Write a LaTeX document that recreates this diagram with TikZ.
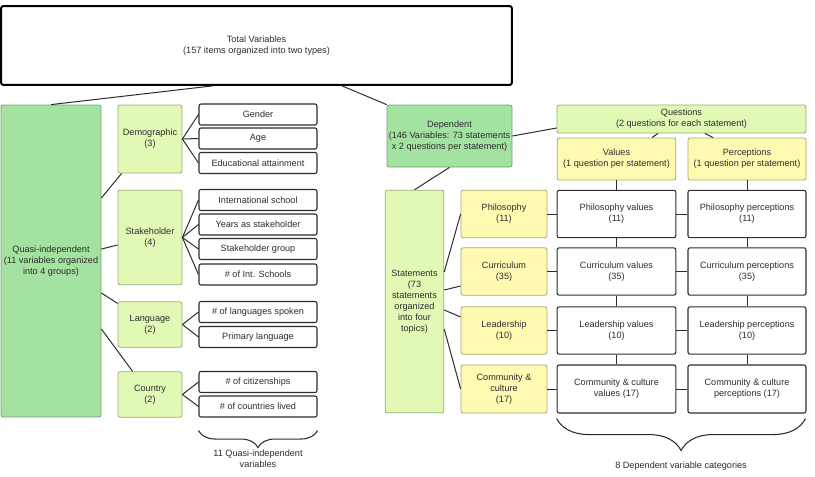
\documentclass[tikz,border=0pt]{standalone}
\usepackage{fontspec}
\setmainfont{Liberation Sans}
\usetikzlibrary{calc,decorations.pathreplacing}

\definecolor{darkgreen}{RGB}{163,226,160}
\definecolor{lightgreen}{RGB}{226,249,182}
\definecolor{lightyellow}{RGB}{255,250,178}
\definecolor{inkgray}{RGB}{45,45,45}

\newcommand{\lblfont}{\fontsize{6.85}{8.3}\selectfont}

\begin{document}
\begin{tikzpicture}[x=0.75pt,y=0.75pt,yscale=-1,xscale=1,
  box/.style={draw, rounded corners=1.5pt, align=center, inner sep=1pt, font=\lblfont, text=inkgray},
  totalbox/.style={box, draw=black, line width=1.5pt, fill=white},
  mainbox/.style={box, draw={rgb,255:red,120;green,160;blue,118}, line width=0.6pt, fill=darkgreen},
  groupbox/.style={box, draw={rgb,255:red,150;green,175;blue,120}, line width=0.6pt, fill=lightgreen},
  topicbox/.style={box, draw={rgb,255:red,175;green,165;blue,110}, line width=0.6pt, fill=lightyellow},
  itembox/.style={box, draw=inkgray, line width=0.8pt, fill=white},
  var/.style={itembox, minimum width=88.5pt, minimum height=15.75pt},
  cat/.style={itembox, minimum width=89pt, minimum height=35.5pt},
  link/.style={draw=inkgray, line width=0.75pt},
  bracket/.style={draw=inkgray, line width=0.8pt, decorate, decoration={brace, mirror, amplitude=#1}}
]
\useasboundingbox (0,0) rectangle (815,476);

% top
\node [totalbox, minimum width=383pt, minimum height=59pt] (total) at (256.5,45.5) {Total Variables\\(157 items organized into two types)};

% quasi-independent side
\node [mainbox, minimum width=75pt, minimum height=234pt] (quasi) at (51,261) {Quasi-independent\\(11 variables organized\\into 4 groups)};

\node [groupbox, minimum width=48pt, minimum height=51pt] (demo) at (150,139) {Demographic\\(3)};
\node [groupbox, minimum width=48pt, minimum height=71pt] (stake) at (150,237.5) {Stakeholder\\(4)};
\node [groupbox, minimum width=48pt, minimum height=34pt] (lang) at (150,324.5) {Language\\(2)};
\node [groupbox, minimum width=48pt, minimum height=34pt] (ctry) at (150,394.5) {Country\\(2)};

\node [var] (gender) at (258,114.5) {Gender};
\node [var] (age) at (258,138.5) {Age};
\node [var] (edu) at (258,163) {Educational attainment};
\node [var] (intl) at (258,200) {International school};
\node [var] (years) at (258,224.5) {Years as stakeholder};
\node [var] (sgroup) at (258,249) {Stakeholder group};
\node [var] (nschools) at (258,274.5) {\# of Int. Schools};
\node [var] (nlang) at (258,312) {\# of languages spoken};
\node [var] (primary) at (258,337) {Primary language};
\node [var] (ncitizen) at (258,382) {\# of citizenships};
\node [var] (ncountry) at (258,406.5) {\# of countries lived};

\draw [link] ($(total.south)+(-43.5,0)$) -- (quasi.north);
\draw [link] ($(quasi.east)+(0,-63)$) -- ($(demo.south west)+(4,0)$);
\draw [link] ($(quasi.east)+(0,-12)$) -- ($(stake.west)+(0,7.5)$);
\draw [link] ($(quasi.east)+(0,32)$) -- ($(lang.north west)+(0,2)$);
\draw [link] ($(quasi.east)+(0,68)$) -- ($(ctry.north west)+(15,0)$);

\foreach \v in {gender,age,edu} \draw [link] (demo.east) -- (\v.west);
\foreach \v in {intl,years,sgroup,nschools} \draw [link] (stake.east) -- (\v.west);
\foreach \v in {nlang,primary} \draw [link] (lang.east) -- (\v.west);
\foreach \v in {ncitizen,ncountry} \draw [link] (ctry.east) -- (\v.west);

\coordinate (qbl) at ($(ncountry.south west)+(0,13)$);
\coordinate (qbr) at ($(ncountry.south east)+(0,13)$);
\draw [bracket=12.75pt] (qbl) -- (qbr);
\node [font=\lblfont, text=inkgray, align=center] (qnote) at (258,459) {11 Quasi-independent\\variables};

% dependent side
\node [mainbox, minimum width=93.75pt, minimum height=46.5pt] (dep) at (449.5,136) {Dependent\\(146 Variables: 73 statements\\x 2 questions per statement)};
\node [groupbox, minimum width=186.75pt, minimum height=21pt] (quest) at (681.5,119) {Questions\\(2 questions for each statement)};
\node [topicbox, minimum width=89pt, minimum height=31.5pt] (values) at (616.5,159) {Values\\(1 question per statement)};
\node [topicbox, minimum width=88.5pt, minimum height=31.5pt] (percs) at (747,159) {Perceptions\\(1 question per statement)};

\node [groupbox, minimum width=44pt, minimum height=167pt] (stmts) at (414.5,301.5) {Statements\\(73\\statements\\organized\\into four\\topics)};

\node [topicbox, minimum width=64.5pt, minimum height=35.5pt] (philo) at (504,214) {Philosophy\\(11)};
\node [topicbox, minimum width=64.5pt, minimum height=35.5pt] (curr) at (504,271.5) {Curriculum\\(35)};
\node [topicbox, minimum width=64.5pt, minimum height=35.5pt] (lead) at (504,330.5) {Leadership\\(10)};
\node [topicbox, minimum width=64.5pt, minimum height=36pt] (comm) at (504,389) {Community \&\\culture\\(17)};

\node [cat] (philval) at (616.5,214) {Philosophy values\\(11)};
\node [cat] (currval) at (616.5,271.5) {Curriculum values\\(35)};
\node [cat] (leadval) at (616.5,330.5) {Leadership values\\(10)};
\node [cat, minimum height=36pt] (commval) at (616.5,389) {Community \& culture\\values (17)};

\node [cat, minimum width=88.5pt] (philper) at (747,214) {Philosophy perceptions\\(11)};
\node [cat, minimum width=88.5pt] (currper) at (747,271.5) {Curriculum perceptions\\(35)};
\node [cat, minimum width=88.5pt] (leadper) at (747,330.5) {Leadership perceptions\\(10)};
\node [cat, minimum width=88.5pt, minimum height=36pt] (commper) at (747,389) {Community \& culture\\perceptions (17)};

\draw [link] ($(total.south)+(85.5,0)$) -- (dep.north west);
\draw [link] (dep.east) -- ($(quest.west)+(0,9)$);
\draw [link] (dep.south) -- (stmts.north);
\draw [link] ($(quest.south)+(-23.5,0)$) -- ($(values.north)+(35.5,0)$);
\draw [link] ($(quest.south)+(23.5,0)$) -- ($(percs.north)+(-34,0)$);

\draw [link] ($(stmts.east)+(0,-29.5)$) -- (philo.west);
\draw [link] ($(stmts.east)+(0,-11.5)$) -- ($(curr.west)+(0,14.5)$);
\draw [link] ($(stmts.east)+(0,8.5)$) -- ($(lead.west)+(0,-13.5)$);
\draw [link] ($(stmts.east)+(0,27.5)$) -- (comm.west);

\draw [link] (values.south) -- (philval.north);
\draw [link] (philval.south) -- (currval.north);
\draw [link] (currval.south) -- (leadval.north);
\draw [link] (leadval.south) -- (commval.north);
\draw [link] (percs.south) -- (philper.north);
\draw [link] (philper.south) -- (currper.north);
\draw [link] (currper.south) -- (leadper.north);
\draw [link] (leadper.south) -- (commper.north);

\foreach \t/\v/\p in {philo/philval/philper,curr/currval/currper,lead/leadval/leadper,comm/commval/commper} {
  \draw [link] (\t.east) -- (\v.west);
  \draw [link] (\v.east) -- (\p.west);
}

\coordinate (dbl) at ($(commval.south west)+(0,5)$);
\coordinate (dbr) at ($(commper.south east)+(-1,5)$);
\draw [bracket=24pt] (dbl) -- (dbr);
\node [font=\lblfont, text=inkgray] (dnote) at (681,466) {8 Dependent variable categories};

\end{tikzpicture}
\end{document}
